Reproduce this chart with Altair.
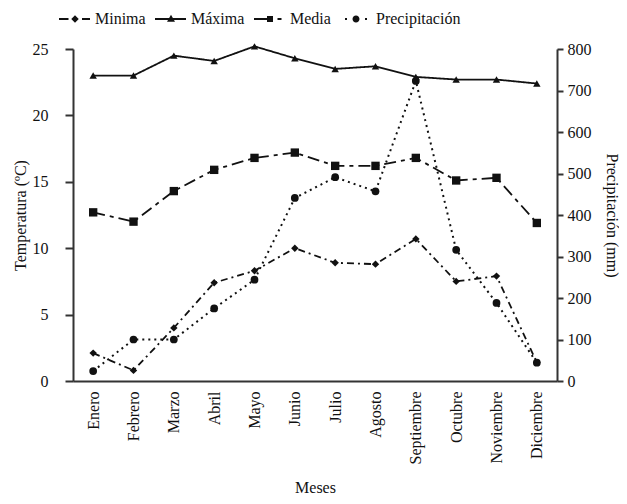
import altair as alt
import pandas as pd

meses = ["Enero", "Febrero", "Marzo", "Abril", "Mayo", "Junio", "Julio",
         "Agosto", "Septiembre", "Octubre", "Noviembre", "Diciembre"]
minima = [2.1, 0.8, 4.0, 7.4, 8.3, 10.0, 8.9, 8.8, 10.7, 7.5, 7.9, 1.4]
maxima = [23.0, 23.0, 24.5, 24.1, 25.2, 24.3, 23.5, 23.7, 22.9, 22.7, 22.7, 22.4]
media = [12.7, 12.0, 14.3, 15.9, 16.8, 17.2, 16.2, 16.2, 16.8, 15.1, 15.3, 11.9]
precip = [24, 100, 100, 175, 244, 441, 491, 457, 723, 316, 188, 44]

series = ["Minima", "Máxima", "Media", "Precipitación"]

FONT = "Liberation Serif"
INK = "#111"

temp = pd.DataFrame({
    "mes": meses * 3,
    "valor": minima + maxima + media,
    "serie": ["Minima"] * 12 + ["Máxima"] * 12 + ["Media"] * 12,
})
prec = pd.DataFrame({"mes": meses, "valor": precip, "serie": "Precipitación"})

x = alt.X("mes:N", sort=meses, title="Meses",
          scale=alt.Scale(paddingInner=0, paddingOuter=0),
          axis=alt.Axis(labelAngle=-90, ticks=False, titlePadding=16,
                        labelPadding=10, domainWidth=2))

y_temp = alt.Y("valor:Q", title="Temperatura (ºC)",
               scale=alt.Scale(domain=[0, 25]),
               axis=alt.Axis(values=[0, 5, 10, 15, 20, 25], grid=False,
                             tickSize=8, domainWidth=2, tickWidth=2,
                             labelPadding=17, titlePadding=4))
y_prec = alt.Y("valor:Q", title="Precipitación (mm)",
               scale=alt.Scale(domain=[0, 800]),
               axis=alt.Axis(orient="right", values=list(range(0, 801, 100)),
                             grid=False, tickSize=6, domainWidth=2, tickWidth=2,
                             labelPadding=4, titlePadding=12))

dash = {"Minima": [7, 4, 2, 4], "Máxima": [1, 0], "Media": [12, 5, 4, 5]}
shape = {"Minima": "diamond", "Máxima": "triangle-up", "Media": "square"}
size = {"Minima": 55, "Máxima": 55, "Media": 70}

layers = []
for s in ["Minima", "Máxima", "Media"]:
    d = temp[temp.serie == s]
    base = alt.Chart(d).encode(x=x, y=y_temp)
    layers.append(base.mark_line(color=INK, strokeWidth=1.8,
                                 strokeDash=dash[s]))
    layers.append(base.mark_point(shape=shape[s], filled=True, color=INK,
                                  size=size[s], opacity=1))

# legend carrier (invisible points, visible legend symbols: line + marker)
def seg(a, b, t=0.18):
    return f"M{a},{-t}H{b}V{t}H{a}Z"

paths = [
    seg(-1, 0.9) + "M1.45,0L2.2,-0.75L2.95,0L2.2,0.75Z" + seg(3.6, 5.2),
    seg(-1, 5.2) + "M2.2,-0.85L3.0,0.55L1.4,0.55Z",
    seg(-1, 1.6) + "M1.6,-0.6H2.8V0.6H1.6Z" + seg(3.7, 4.5),
    seg(0, 0.4, 0.2) + "M1.5,0A0.7,0.7 0 1,0 2.9,0A0.7,0.7 0 1,0 1.5,0Z" + seg(4.0, 4.4, 0.2),
]
legend_layer = alt.Chart(temp).mark_point(
    opacity=0, filled=True, clip=True, color=INK
).encode(
    x=x, y=y_temp,
    shape=alt.Shape("serie:N", scale=alt.Scale(domain=series, range=paths),
                    legend=alt.Legend(orient="none", legendX=-17, legendY=-38,
                                      direction="horizontal",
                                      title=None, symbolOpacity=1,
                                      symbolFillColor=INK,
                                      symbolSize=100,
                                      labelOffset=23, columnPadding=6,
                                      labelFont=FONT, labelFontSize=16,
                                      labelColor=INK)),
)
layers.append(legend_layer)

temp_chart = alt.layer(*layers)

pbase = alt.Chart(prec).encode(x=x, y=y_prec)
prec_chart = alt.layer(
    pbase.mark_line(color=INK, strokeWidth=2, strokeDash=[2, 4]),
    pbase.mark_point(shape="circle", filled=True, color=INK, size=60, opacity=1),
)

chart = alt.layer(temp_chart, prec_chart).resolve_scale(
    y="independent", shape="independent"
).properties(width=611, height=488,
             autosize=alt.AutoSizeParams(type="fit", contains="padding"),
             padding={"left": 4, "top": 33, "right": 0, "bottom": 0}).configure_view(
    stroke=None
).configure_axis(
    labelFont=FONT, titleFont=FONT, labelFontSize=16, titleFontSize=16,
    labelColor=INK, titleColor=INK, domainColor="#333", tickColor="#333",
    titleFontWeight="normal"
)

chart.save("out.html", embed_options={"renderer": "svg", "actions": False})
